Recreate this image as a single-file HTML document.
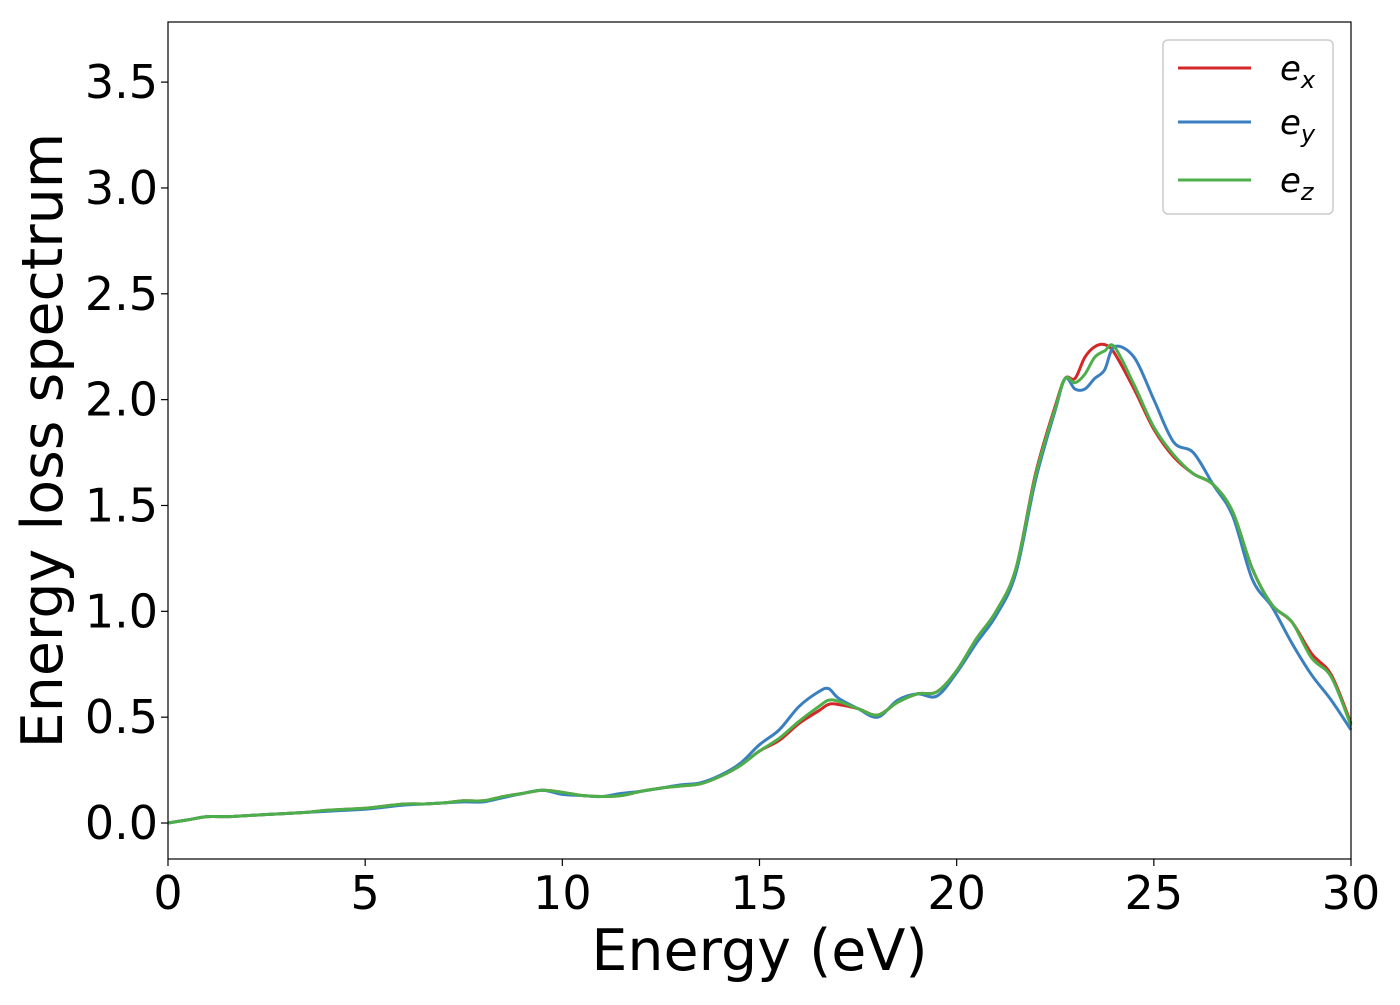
<!DOCTYPE html>
<html><head><meta charset="utf-8"><style>
body{margin:0;background:#fff}
svg{font-family:"DejaVu Sans","Liberation Sans",sans-serif}
</style></head><body>
<svg id="chart" width="1400" height="1000">
<rect x="0" y="0" width="1400" height="1000" fill="#fff"/>
<g id="plot"></g>
<g id="axes"></g>
<g id="legend">
<rect x="1163" y="40" width="170" height="174" rx="5" fill="#fff" stroke="#ccc" stroke-width="1.5" fill-opacity="0.8"/>
<line x1="1178" y1="68" x2="1251" y2="68" stroke="#d62728" stroke-width="3"/>
<text x="1280" y="80" font-size="34" font-style="italic">e<tspan font-size="24" dy="8">x</tspan></text>
<line x1="1178" y1="122" x2="1251" y2="122" stroke="#3a7fbf" stroke-width="3"/>
<text x="1280" y="134" font-size="34" font-style="italic">e<tspan font-size="24" dy="8">y</tspan></text>
<line x1="1178" y1="180" x2="1251" y2="180" stroke="#4daf4a" stroke-width="3"/>
<text x="1280" y="192" font-size="34" font-style="italic">e<tspan font-size="24" dy="8">z</tspan></text>
</g>
</svg>
<script>
const energies=[0,0.5,1,1.5,2,2.5,3,3.5,4,4.5,5,5.5,6,6.5,7,7.5,8,8.5,9,9.5,10,10.5,11,11.5,12,12.5,13,13.5,14,14.5,15,15.5,16,16.5,16.75,17,17.5,18,18.5,19,19.5,20,20.5,21,21.5,22,22.5,22.75,23,23.25,23.5,23.75,24,24.5,25,25.5,26,26.5,27,27.5,28,28.5,29,29.5,30];
const ex=[0,0.015,0.03,0.03,0.035,0.04,0.045,0.05,0.06,0.065,0.07,0.08,0.09,0.09,0.095,0.105,0.105,0.125,0.14,0.155,0.145,0.13,0.125,0.13,0.15,0.165,0.175,0.185,0.22,0.27,0.34,0.39,0.47,0.53,0.56,0.56,0.54,0.51,0.57,0.61,0.62,0.72,0.87,1.0,1.2,1.65,1.97,2.1,2.1,2.2,2.25,2.26,2.22,2.05,1.86,1.73,1.65,1.6,1.47,1.2,1.03,0.95,0.8,0.7,0.47];
const ey=[0,0.015,0.03,0.03,0.035,0.04,0.045,0.05,0.055,0.06,0.065,0.075,0.085,0.09,0.095,0.1,0.1,0.12,0.14,0.155,0.135,0.13,0.125,0.14,0.15,0.165,0.18,0.19,0.225,0.28,0.37,0.44,0.55,0.62,0.635,0.59,0.54,0.5,0.58,0.61,0.6,0.71,0.85,0.98,1.18,1.62,1.95,2.1,2.05,2.05,2.1,2.14,2.25,2.2,2.0,1.8,1.75,1.6,1.45,1.15,1.02,0.85,0.7,0.58,0.44];
const ez=[0,0.015,0.03,0.03,0.035,0.04,0.045,0.05,0.06,0.065,0.07,0.08,0.09,0.09,0.095,0.105,0.105,0.125,0.14,0.155,0.145,0.13,0.125,0.13,0.15,0.165,0.175,0.185,0.22,0.27,0.34,0.4,0.48,0.55,0.58,0.575,0.54,0.51,0.57,0.61,0.62,0.72,0.87,1.0,1.2,1.64,1.96,2.1,2.08,2.12,2.2,2.23,2.25,2.07,1.87,1.74,1.65,1.6,1.47,1.2,1.03,0.95,0.78,0.69,0.46];
const xTicks=[0,5,10,15,20,25,30];
const yTicks=[0,0.5,1,1.5,2,2.5,3,3.5];
const NS="http://www.w3.org/2000/svg";
const L=168,R=1351,T=22,B=859,XMIN=0,XMAX=30,YMIN=-0.17,YMAX=3.784;
const sx=v=>L+(v-XMIN)/(XMAX-XMIN)*(R-L);
const sy=v=>B-(v-YMIN)/(YMAX-YMIN)*(B-T);
function mk(tag,attrs,parent){const e=document.createElementNS(NS,tag);for(const k in attrs)e.setAttribute(k,attrs[k]);parent.appendChild(e);return e;}
const plot=document.getElementById('plot'),axes=document.getElementById('axes');
function pathFor(vals){
  const p=energies.map((e,i)=>[sx(e),sy(vals[i])]);
  let d=`M${p[0][0]},${p[0][1]}`;
  for(let i=0;i<p.length-1;i++){
    const p0=p[Math.max(0,i-1)],p1=p[i],p2=p[i+1],p3=p[Math.min(p.length-1,i+2)];
    const c1=[p1[0]+(p2[0]-p0[0])/6,p1[1]+(p2[1]-p0[1])/6];
    const c2=[p2[0]-(p3[0]-p1[0])/6,p2[1]-(p3[1]-p1[1])/6];
    d+=` C${c1[0]},${c1[1]} ${c2[0]},${c2[1]} ${p2[0]},${p2[1]}`;
  }
  return d;
}
const series=[['series-ex',ex,'#d62728'],['series-ey',ey,'#3a7fbf'],['series-ez',ez,'#4daf4a']];
for(const [n,v,c] of series){
  const el=mk('path',{d:pathFor(v),fill:'none',stroke:c,'stroke-width':3},plot);
  
  
}
const frame=mk('rect',{x:L,y:T,width:R-L,height:B-T,fill:'none',stroke:'#000','stroke-width':1.2},axes);


for(const t of xTicks){
  const x=sx(t);
  mk('line',{x1:x,y1:B,x2:x,y2:B+7,stroke:'#000','stroke-width':1.2},axes);
  const tx=mk('text',{x:x,y:B+50,'font-size':46,'text-anchor':'middle'},axes);
  tx.textContent=t;
  
  
}
for(const t of yTicks){
  const y=sy(t);
  mk('line',{x1:L-7,y1:y,x2:L,y2:y,stroke:'#000','stroke-width':1.2},axes);
  const tx=mk('text',{x:L-10,y:y+16,'font-size':46,'text-anchor':'end'},axes);
  tx.textContent=t.toFixed(1);
  
  
}
const xt=mk('text',{x:(L+R)/2,y:970,'font-size':57,'text-anchor':'middle'},axes);
xt.textContent='Energy (eV)';


const yt=mk('text',{x:0,y:0,'font-size':57,'text-anchor':'middle',transform:`translate(62,${(T+B)/2}) rotate(-90)`},axes);
yt.textContent='Energy loss spectrum';


</script>
</body></html>
